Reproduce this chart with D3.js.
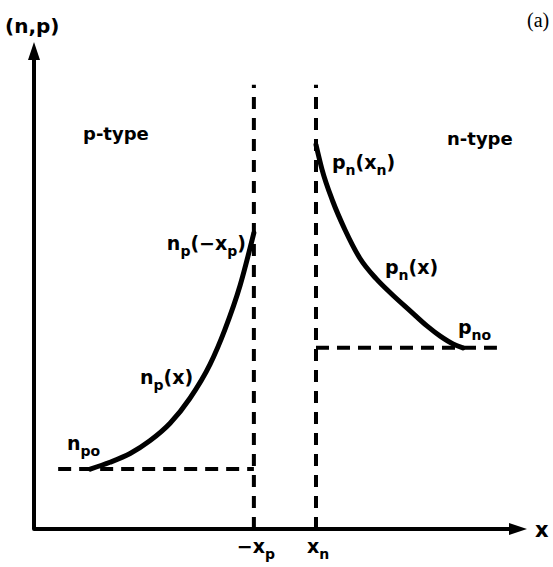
<!DOCTYPE html>
<html>
<head>
<meta charset="utf-8">
<script src="https://cdn.jsdelivr.net/npm/d3@7"></script>
<style>
  body { margin: 0; background: #fff; }
  svg text { font-family: "DejaVu Sans", sans-serif; font-weight: bold; fill: #000; }
</style>
</head>
<body>
<svg id="chart" width="553" height="567"></svg>
<script>
// Minority-carrier densities on both sides of a p-n junction (arbitrary units)
const xDomain = [0, 10];
const yDomain = [0, 10];

// depletion-region edges
const edgeLabels = ["−x_{p}", "x_{n}"];
const edgePositions = [4.46, 5.72];
const edgeTop = 9.12;

// equilibrium minority densities
const npo = 1.23;
const pno = 3.72;
const npoStart = 0.49;
const pnoEnd = 9.39;

// electrons in the p-type side, rising toward -xp
const npX = [1.14, 1.54, 1.95, 2.35, 2.76, 3.16, 3.57, 3.87, 4.18, 4.46];
const npY = [1.23, 1.37, 1.55, 1.81, 2.17, 2.68, 3.38, 4.09, 5.00, 6.08];

// holes in the n-type side, decaying away from xn
const pnX = [5.72, 5.84, 6.06, 6.31, 6.61, 6.94, 7.28, 7.63, 7.97, 8.24, 8.50, 8.70];
const pnY = [7.89, 7.39, 6.73, 6.14, 5.56, 5.14, 4.80, 4.48, 4.17, 3.96, 3.80, 3.72];

const svg = d3.select("#chart");
const x = d3.scaleLinear().domain(xDomain).range([34, 527]);
const y = d3.scaleLinear().domain(yDomain).range([529, 42]);

// text with subscripts written as _{...}
function richText(sel, str, size, subSize) {
  const parts = str.split(/_\{([^}]*)\}/);
  let shifted = false;
  parts.forEach((p, i) => {
    if (p === "") return;
    const sub = i % 2 === 1;
    const t = sel.append("tspan").text(p).attr("font-size", sub ? subSize : size);
    if (sub && !shifted) { t.attr("dy", 6); shifted = true; }
    else if (!sub && shifted) { t.attr("dy", -6); shifted = false; }
  });
  return sel;
}

// dashed reference lines
const dashed = svg.append("g").attr("stroke", "#000").attr("fill", "none");
edgePositions.forEach(v => {
  dashed.append("line")
    .attr("x1", x(v)).attr("x2", x(v))
    .attr("y1", y(0)).attr("y2", y(edgeTop))
    .attr("stroke-width", 4).attr("stroke-dasharray", "12,9");
});
dashed.append("line")
  .attr("x1", x(npoStart)).attr("x2", x(edgePositions[0]))
  .attr("y1", y(npo)).attr("y2", y(npo))
  .attr("stroke-width", 4).attr("stroke-dasharray", "13,8");
dashed.append("line")
  .attr("x1", x(edgePositions[1])).attr("x2", x(pnoEnd))
  .attr("y1", y(pno)).attr("y2", y(pno))
  .attr("stroke-width", 4).attr("stroke-dasharray", "13,8");

// carrier profiles
const line = d3.line().x(d => x(d[0])).y(d => y(d[1])).curve(d3.curveMonotoneX);
svg.append("path").datum(d3.zip(npX, npY))
  .attr("d", line).attr("fill", "none").attr("stroke", "#000")
  .attr("stroke-width", 5).attr("stroke-linecap", "round");
svg.append("path").datum(d3.zip(pnX, pnY))
  .attr("d", line).attr("fill", "none").attr("stroke", "#000")
  .attr("stroke-width", 5).attr("stroke-linecap", "round");

// axes with arrowheads
const axes = svg.append("g");
axes.append("path")
  .attr("d", `M${x(xDomain[1]) - 14},${y(0)} L${x(0)},${y(0)} L${x(0)},${y(yDomain[1]) + 14}`)
  .attr("fill", "none").attr("stroke", "#000").attr("stroke-width", 4).attr("stroke-linejoin", "round");
axes.append("path")
  .attr("d", `M${x(0)},${y(yDomain[1])} l-6,18 l12,0 Z`).attr("fill", "#000");
axes.append("path")
  .attr("d", `M${x(xDomain[1])},${y(0)} l-18,-6 l0,12 Z`).attr("fill", "#000");

// axis titles
svg.append("text").attr("x", 5).attr("y", 33).attr("font-size", 20).text("(n,p)");
svg.append("text").attr("x", 535).attr("y", 537).attr("font-size", 21).text("x");
svg.append("text").attr("x", 527).attr("y", 27)
  .style("font-family", "'Liberation Serif', serif").style("font-weight", "normal")
  .attr("font-size", 20).attr("fill", "#333").text("(a)");

// edge tick labels
edgeLabels.forEach((lab, i) => {
  richText(svg.append("text")
    .attr("x", x(edgePositions[i]) + 2).attr("y", 553)
    .attr("text-anchor", "middle"), lab, 19, 14);
});

// region and curve labels
svg.append("text").attr("x", 83).attr("y", 140).attr("font-size", 18).text("p-type");
svg.append("text").attr("x", 447).attr("y", 145).attr("font-size", 18).text("n-type");
richText(svg.append("text").attr("x", 246).attr("y", 250).attr("text-anchor", "end"), "n_{p}(−x_{p})", 19, 14);
richText(svg.append("text").attr("x", 140).attr("y", 384), "n_{p}(x)", 19, 14);
richText(svg.append("text").attr("x", 67).attr("y", 450), "n_{po}", 19, 14);
richText(svg.append("text").attr("x", 332).attr("y", 169), "p_{n}(x_{n})", 19, 14);
richText(svg.append("text").attr("x", 385).attr("y", 274), "p_{n}(x)", 19, 14);
richText(svg.append("text").attr("x", 458).attr("y", 334), "p_{no}", 19, 14);
</script>
</body>
</html>
